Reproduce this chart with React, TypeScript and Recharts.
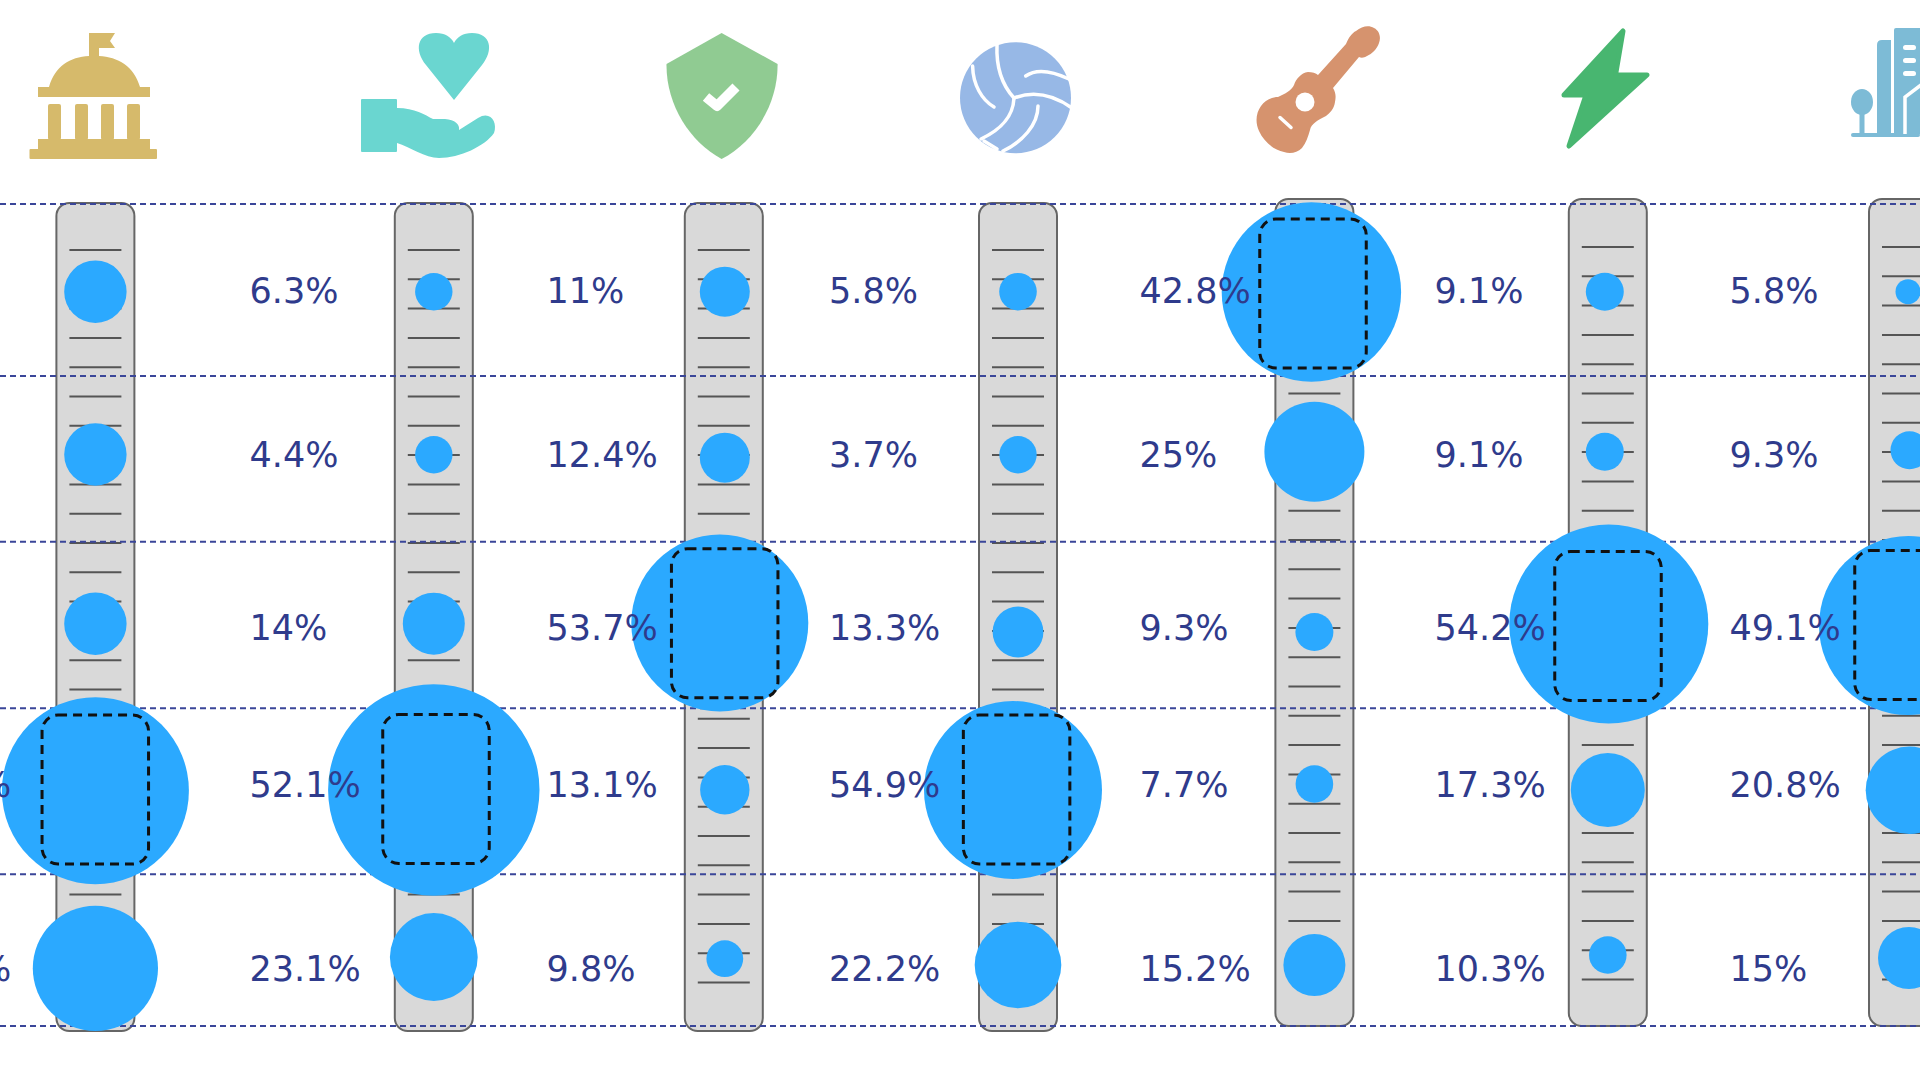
import {
  ReferenceArea,
  ReferenceLine,
  Scatter,
  ScatterChart,
  XAxis,
  YAxis,
  ZAxis,
} from "recharts";

const WIDTH = 1920;
const HEIGHT = 1080;

const categories = ["Civic", "Care", "Safety", "Sport", "Music", "Energy", "City"];

// share printed to the left of each ruler, top row first
// (first column runs off the page: only the % of its two wide rows shows, the digits are a guess)
const civicShare = [null, null, null, 45.3, 25.8];
const careShare = [6.3, 4.4, 14, 52.1, 23.1];
const safetyShare = [11, 12.4, 53.7, 13.1, 9.8];
const sportShare = [5.8, 3.7, 13.3, 54.9, 22.2];
const musicShare = [42.8, 25, 9.3, 7.7, 15.2];
const energyShare = [9.1, 9.1, 54.2, 17.3, 10.3];
const cityShare = [5.8, 9.3, 49.1, 20.8, 15];
const shares = [civicShare, careShare, safetyShare, sportShare, musicShare, energyShare, cityShare];

// bubble sizes
const civicBubble = [31.2, 31.2, 31.2, 93.5, 62.6];
const careBubble = [18.7, 18.7, 31, 105.7, 43.9];
const safetyBubble = [25, 25, 88.5, 24.7, 18.4];
const sportBubble = [18.8, 18.7, 25.4, 89, 43.3];
const musicBubble = [89.7, 50, 19, 18.8, 31];
const energyBubble = [19, 19, 99.5, 37, 18.8];
const cityBubble = [12.5, 19, 89.5, 43.7, 31];
const bubbles = [civicBubble, careBubble, safetyBubble, sportBubble, musicBubble, energyBubble, cityBubble];

// where each bubble sits on the y axis
const civicLevel = [291.7, 454.5, 623.7, 790.7, 968.3];
const careLevel = [291.7, 454.7, 623.7, 790, 957];
const safetyLevel = [291.7, 457.7, 623, 789.7, 958.7];
const sportLevel = [291.7, 454.7, 632, 790, 965];
const musicLevel = [292, 451.7, 632, 784, 965];
const energyLevel = [291.7, 451.7, 624, 790, 955];
const cityLevel = [291.7, 450.3, 625.6, 790.3, 958];
const levels = [civicLevel, careLevel, safetyLevel, sportLevel, musicLevel, energyLevel, cityLevel];

// sideways drift of each bubble from its ruler
const civicDrift = [0, 0, 0, 0, 0];
const careDrift = [0, 0, 0, 0, 0];
const safetyDrift = [1, 1, -4, 1, 1];
const sportDrift = [0, 0, 0, -5, 0];
const musicDrift = [-3, 0, 0, 0, 0];
const energyDrift = [-3, -3, 1, 0, 0];
const cityDrift = [0, 1.5, 0.5, 1.4, 1];
const drifts = [civicDrift, careDrift, safetyDrift, sportDrift, musicDrift, energyDrift, cityDrift];

// layout
const columnCenters = [95.4, 433.8, 723.8, 1018, 1314.4, 1607.8, 1908];
const rulerTops = [203, 203, 203, 203, 199, 199, 199];
const rulerBottoms = [1031, 1031, 1031, 1031, 1026, 1026, 1026];
const firstTicks = [250, 250, 250, 250, 247, 247, 247];
const rowLines = [204, 376, 541.7, 708.3, 874.3, 1026];
const labelStarts = [-100, 249.5, 546.5, 829, 1139.5, 1434.5, 1729.5];
const labelBaselines = [303, 466.7, 640, 797, 980.6];
const frameCenters = [
  { x: 95.3, y: 789.5 },
  { x: 436, y: 789 },
  { x: 724.7, y: 623.3 },
  { x: 1016.6, y: 789.5 },
  { x: 1313, y: 293.5 },
  { x: 1608, y: 626 },
  { x: 1908, y: 625 },
];
const TICK_COUNT = 26;
const TICK_STEP = 29.3;
const RULER_WIDTH = 78;
const TICK_WIDTH = 52;
const FRAME_W = 106.5;
const FRAME_H = 149;

const BUBBLE = "#2BA9FF";
const NAVY = "#2F3B8C";

const bubblePoints = categories.flatMap((name, col) =>
  bubbles[col].map((size, row) => ({
    name,
    x: columnCenters[col] + drifts[col][row],
    y: levels[col][row],
    z: size * size,
  })),
);

const labelPoints = categories.flatMap((name, col) =>
  shares[col].flatMap((share, row) =>
    share === null
      ? []
      : [{ name, x: labelStarts[col], y: labelBaselines[row], text: `${share}%` }],
  ),
);

const Frame = ({ cx, cy }: any) => (
  <rect
    x={cx - FRAME_W / 2}
    y={cy - FRAME_H / 2}
    width={FRAME_W}
    height={FRAME_H}
    rx={16}
    fill="none"
    stroke="#111"
    strokeWidth={3}
    strokeDasharray="9 6"
  />
);

const PercentLabel = ({ cx, cy, payload }: any) => (
  <text x={cx} y={cy} fontFamily="'DejaVu Sans'" fontSize={35} fill={NAVY}>
    {payload.text}
  </text>
);

function Icons() {
  return (
    <g>
      {/* capitol */}
      <g fill="#D6BA6B">
        <path d="M89 33H115L110 41L115 48H99V56C118 57 134 66 140 87H150V97H38V87H49C55 66 70 57 89 56Z" />
        <rect x={48} y={104} width={13} height={36} rx={2} />
        <rect x={75} y={104} width={13} height={36} rx={2} />
        <rect x={101} y={104} width={13} height={36} rx={2} />
        <rect x={127} y={104} width={13} height={36} rx={2} />
        <rect x={38} y={139} width={112} height={11} />
        <rect x={29.5} y={149} width={127.5} height={10} rx={1} />
      </g>
      {/* hand and heart */}
      <g fill="#6AD6D0">
        <path d="M454 100L426 65C414 50 417 33 436 33C445 33 451 37 454 43C457 37 463 33 472 33C491 33 494 50 482 65Z" />
        <rect x={361} y={99} width={36} height={53} rx={1} />
        <path d="M397 108C415 108 425 115 433 119H445C455 120 460 124 459 130L478 118C490 110 498 122 494 133C485 146 460 158 439 158C425 158 410 147 397 143Z" />
      </g>
      {/* shield */}
      <path
        d="M721.6 33L777.6 64C778 105 754 142 721.6 159C690 142 666 105 666.5 64Z"
        fill="#90CB92"
      />
      <path d="M706 97L717 106L736 87" fill="none" stroke="#fff" strokeWidth={10} strokeLinejoin="round" />
      {/* volleyball */}
      <circle cx={1015.5} cy={97.7} r={55.5} fill="#97B8E6" />
      <g fill="none" stroke="#fff" strokeWidth={3.5} strokeLinecap="round">
        <path d="M997 45C996 68 1003 86 1014 98C1013 118 1000 130 981 139" />
        <path d="M1014 98C1035 90 1055 96 1072 108" />
        <path d="M972.6 66C973 85 982 100 994 107" />
        <path d="M1025.7 76C1037 68 1052 71 1069 79" />
        <path d="M1038 106C1038 125 1022 142 1003 151" />
        <path d="M984 141L997 149" />
      </g>
      {/* guitar */}
      <path
        d="M1346 44C1349 37 1352 33 1356 31C1362 26 1369 25 1374 28C1380 31 1381 38 1379 43C1377 49 1372 54 1367 56C1364 58 1361 58 1359 57L1333 88C1336 93 1336 97 1335 102C1334 109 1330 113 1326 116C1318 120 1311 124 1310 130C1308 137 1306 143 1302 148C1297 153 1290 154 1284 152C1274 150 1264 142 1259 131C1255 122 1256 113 1261 106C1265 100 1272 97 1278 97C1285 94 1292 90 1294 85C1296 79 1301 73 1308 72C1312 72 1316 73 1318 75Z"
        fill="#D6936E"
      />
      <circle cx={1305} cy={102} r={9.5} fill="#fff" />
      <path d="M1280 117.5L1291 127.5" stroke="#fff" strokeWidth={3.5} strokeLinecap="round" />
      {/* bolt */}
      <path
        d="M1623 31L1615.5 75H1647L1569 146L1586 95H1564Z"
        fill="#48B670"
        stroke="#48B670"
        strokeWidth={5}
        strokeLinejoin="round"
      />
      {/* city */}
      <g fill="#7DBBD6">
        <rect x={1851} y={133} width={69} height={4} rx={2} />
        <ellipse cx={1862} cy={102} rx={11} ry={13} />
        <rect x={1859.5} y={110} width={5} height={24} />
        <path d="M1877 134V45Q1877 40 1882 40H1891V134Z" />
        <path d="M1894 134V30Q1894 28 1896 28H1920V134Z" />
      </g>
      <g fill="#fff">
        <rect x={1903} y={45} width={13} height={5} rx={2.5} />
        <rect x={1903} y={58} width={13} height={5} rx={2.5} />
        <rect x={1903} y={71} width={13} height={5} rx={2.5} />
      </g>
      <path d="M1905 134V97L1921 85" fill="none" stroke="#fff" strokeWidth={3.5} />
    </g>
  );
}

export default function App() {
  return (
    <div style={{ width: WIDTH, height: HEIGHT, overflow: "hidden", background: "#fff" }}>
      <style>{"body{margin:0}"}</style>
      <ScatterChart width={WIDTH} height={HEIGHT} margin={{ top: 0, right: 0, bottom: 0, left: 0 }}>
        <XAxis type="number" dataKey="x" domain={[0, WIDTH]} allowDataOverflow hide />
        <YAxis type="number" dataKey="y" domain={[0, HEIGHT]} reversed allowDataOverflow hide />
        <ZAxis type="number" dataKey="z" domain={[0, 12000]} range={[0, 12000 * Math.PI]} />

        {columnCenters.map((center, col) => (
          <ReferenceArea
            key={categories[col]}
            x1={center - RULER_WIDTH / 2}
            x2={center + RULER_WIDTH / 2}
            y1={rulerTops[col]}
            y2={rulerBottoms[col]}
            radius={13}
            fill="#D9D9D9"
            fillOpacity={1}
            stroke="#666"
            strokeWidth={2}
            ifOverflow="visible"
          />
        ))}
        {columnCenters.flatMap((center, col) =>
          Array.from({ length: TICK_COUNT }, (_, i) => (
            <ReferenceLine
              key={`${col}-${i}`}
              segment={[
                { x: center - TICK_WIDTH / 2, y: firstTicks[col] + i * TICK_STEP },
                { x: center + TICK_WIDTH / 2, y: firstTicks[col] + i * TICK_STEP },
              ]}
              stroke="#555"
              strokeWidth={2}
              ifOverflow="visible"
            />
          )),
        )}
        {rowLines.map((y) => (
          <ReferenceLine key={y} y={y} stroke="#3A4699" strokeWidth={2} strokeDasharray="6 4" />
        ))}

        <Scatter data={bubblePoints} fill={BUBBLE} isAnimationActive={false} />
        <Scatter data={frameCenters} shape={Frame} isAnimationActive={false} />
        <Scatter data={labelPoints} shape={PercentLabel} isAnimationActive={false} />
        <Icons />
      </ScatterChart>
    </div>
  );
}
